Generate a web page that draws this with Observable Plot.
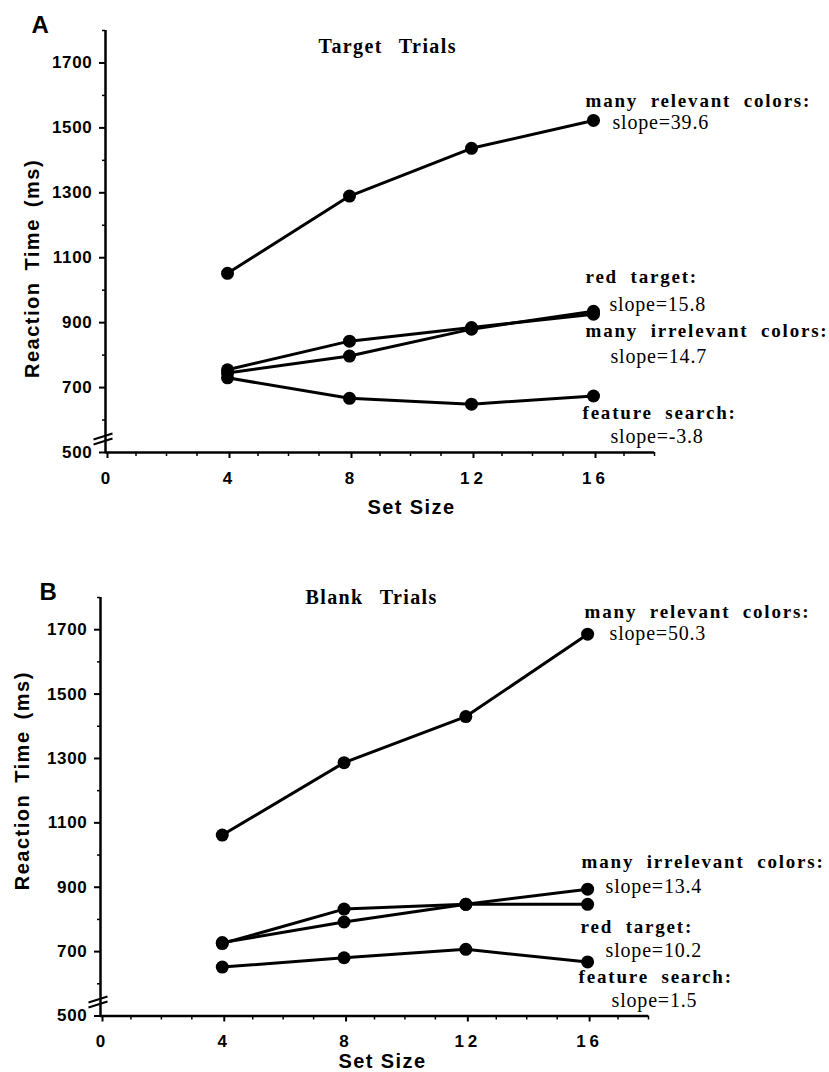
<!DOCTYPE html>
<html><head><meta charset="utf-8">
<script src="https://cdn.jsdelivr.net/npm/d3@7"></script>
<script src="https://cdn.jsdelivr.net/npm/@observablehq/plot@0.6"></script>
<style>
body{margin:0;background:#fff;}
#wrap{position:relative;width:829px;height:1072px;overflow:hidden;background:#fff;}
#panelA{position:absolute;left:0;top:0;}
#panelB{position:absolute;left:0;top:540px;}
g[aria-label="y-axis tick label"] text{letter-spacing:0.7px;}
g[aria-label="x-axis tick label"] text{letter-spacing:4px;}
</style>
</head><body>
<div id="wrap"><div id="panelA"></div><div id="panelB"></div></div>
<script>
// ---- data ----
const setSizes = [4, 8, 12, 16];
const seriesNames = ["many relevant colors:", "red target:", "many irrelevant colors:", "feature search:"];

// Panel A: Target Trials (ms)
const targetManyRelevant   = [1052, 1290, 1437, 1523];
const targetRedTarget      = [745, 797, 880, 935];
const targetManyIrrelevant = [755, 843, 885, 926];
const targetFeatureSearch  = [730, 667, 649, 674];
const targetSlopes = [39.6, 15.8, 14.7, -3.8];

// Panel B: Blank Trials (ms)
const blankManyRelevant   = [1062, 1287, 1430, 1686];
const blankRedTarget      = [728, 792, 847, 847];
const blankManyIrrelevant = [725, 832, 847, 894];
const blankFeatureSearch  = [652, 681, 707, 668];
const blankSlopes = [50.3, 10.2, 13.4, 1.5];

const yTicksMajor = [500, 700, 900, 1100, 1300, 1500, 1700];
const yTicksMinor = [600, 800, 1000, 1200, 1400, 1600, 1800];
const xTicksMajor = [0, 4, 8, 12, 16];
const xTicksMinor = [1, 2, 3, 5, 6, 7, 9, 10, 11, 13, 14, 15, 17, 18];

const yTitle = "Reaction Time (ms)";
const xTitle = "Set Size";

// ---- drawing ----
const SANS = "Liberation Sans, Arial, Helvetica, sans-serif";
const SERIF = "Liberation Serif, Times New Roman, serif";

const breakSymbol = {
  draw(ctx) {
    ctx.moveTo(-12, 0.5); ctx.lineTo(7, -5.5);
    ctx.moveTo(-12, 5.5); ctx.lineTo(7, -0.5);
  }
};

function panel(cfg) {
  const rows = [];
  seriesNames.forEach((name, s) =>
    cfg.values[s].forEach((v, i) => rows.push({series: name, size: setSizes[i], rt: v})));
  const last = setSizes.length - 1;
  const ends = seriesNames.map((name, s) => ({
    series: name, size: setSizes[last], rt: cfg.values[s][last], slope: cfg.slopes[s]
  }));
  const labelMarks = ends.flatMap((e, s) => {
    const o = cfg.offsets[s];
    return [
      Plot.text([e], {x: "size", y: "rt", text: "series", dx: o[0], dy: o[1],
        textAnchor: "start", lineAnchor: "bottom", fontFamily: SERIF, fontWeight: "bold",
        fontSize: 19, fill: "black"}),
      Plot.text([e], {x: "size", y: "rt", text: d => `slope=${d.slope}`, dx: o[2], dy: o[3],
        textAnchor: "start", lineAnchor: "bottom", fontFamily: SERIF, fontWeight: "normal",
        fontSize: 20, fill: "black"})
    ];
  });
  const m = cfg.margins;
  const svg = Plot.plot({
    width: 829,
    height: cfg.height,
    marginLeft: m[0], marginRight: m[1], marginTop: m[2], marginBottom: m[3],
    style: {fontFamily: SANS, color: "black", background: "white", overflow: "visible"},
    x: {domain: [0, 18]},
    y: {domain: [500, 1800]},
    marks: [
      Plot.axisY(yTicksMajor, {tickSize: 6, tickPadding: 7, strokeWidth: 2, fontSize: 17,
        fontWeight: "bold", fontFamily: SANS, label: null, tickFormat: d => String(d)}),
      Plot.axisY(yTicksMinor, {tickSize: 3, strokeWidth: 1.5, fill: "none", label: null}),
      Plot.axisX(xTicksMajor, {tickSize: 6, tickPadding: 13, strokeWidth: 2, fontSize: 17,
        fontWeight: "bold", fontFamily: SANS, label: null, dx: 2, tickFormat: d => String(d)}),
      Plot.axisX(xTicksMinor, {tickSize: 4, strokeWidth: 1.5, fill: "none", label: null}),
      Plot.ruleX([0], {stroke: "black", strokeWidth: 2.5}),
      Plot.ruleY([500], {stroke: "black", strokeWidth: 2.5}),
      Plot.dot([0], {frameAnchor: "bottom-left", dy: cfg.breakDy, symbol: breakSymbol, r: 5,
        stroke: "black", strokeWidth: 2, fill: "none"}),
      Plot.line(rows, {x: "size", y: "rt", z: "series", stroke: "black", strokeWidth: 3}),
      Plot.dot(rows, {x: "size", y: "rt", r: 6.5, fill: "black"}),
      ...labelMarks,
      Plot.text([cfg.letter], {frameAnchor: "top-left", dx: cfg.letterPos[0], dy: cfg.letterPos[1],
        textAnchor: "start", lineAnchor: "bottom", fontSize: 24, fontWeight: "bold", fontFamily: SANS}),
      Plot.text([cfg.title], {frameAnchor: "top-left", dx: cfg.titlePos[0], dy: cfg.titlePos[1],
        textAnchor: "start", lineAnchor: "bottom", fontSize: 20, fontWeight: "bold", fontFamily: SERIF}),
      Plot.text([yTitle], {frameAnchor: "left", rotate: -90, dx: cfg.yTitlePos[0], dy: cfg.yTitlePos[1],
        textAnchor: "middle", lineAnchor: "middle", fontSize: 20, fontWeight: "bold", fontFamily: SANS}),
      Plot.text([xTitle], {frameAnchor: "bottom-left", dx: cfg.xTitlePos[0], dy: cfg.xTitlePos[1],
        textAnchor: "start", lineAnchor: "bottom", fontSize: 20, fontWeight: "bold", fontFamily: SANS})
    ]
  });
  // typographic spacing of the original figure
  d3.select(svg).selectAll("text").each(function () {
    const t = this.textContent;
    const sel = d3.select(this);
    if (seriesNames.includes(t)) sel.style("letter-spacing", "1.8px").style("word-spacing", "6px");
    else if (t.startsWith("slope=")) sel.style("letter-spacing", "0.8px");
    else if (t === cfg.title) sel.style("letter-spacing", "1.4px").style("word-spacing", "10px");
    else if (t === yTitle) sel.style("letter-spacing", "1.5px").style("word-spacing", "4px");
    else if (t === xTitle) sel.style("letter-spacing", "1.4px");
  });
  return svg;
}

document.getElementById("panelA").appendChild(panel({
  values: [targetManyRelevant, targetRedTarget, targetManyIrrelevant, targetFeatureSearch],
  slopes: targetSlopes,
  offsets: [[-8, -13, 19, 9], [-8, -28, 16, 0], [-8, 23, 17, 49], [-11, 22.5, 17, 46.5]],
  height: 540, margins: [105, 175, 30, 88],
  letter: "A", letterPos: [-74, 2],
  title: "Target Trials", titlePos: [213, 22],
  yTitlePos: [-73, 27], xTitlePos: [262, 61],
  breakDy: -13.5
}));

document.getElementById("panelB").appendChild(panel({
  values: [blankManyRelevant, blankRedTarget, blankManyIrrelevant, blankFeatureSearch],
  slopes: blankSlopes,
  offsets: [[-3, -16, 22, 6], [-7, 29, 18, 53], [-6, -21, 18, 4], [-9, 21.5, 24, 45.5]],
  height: 532, margins: [100, 181, 57, 56.5],
  letter: "B", letterPos: [-61, 2],
  title: "Blank Trials", titlePos: [205, 6],
  yTitlePos: [-78, -26], xTitlePos: [238, 52],
  breakDy: -14
}));
</script>
</body></html>
